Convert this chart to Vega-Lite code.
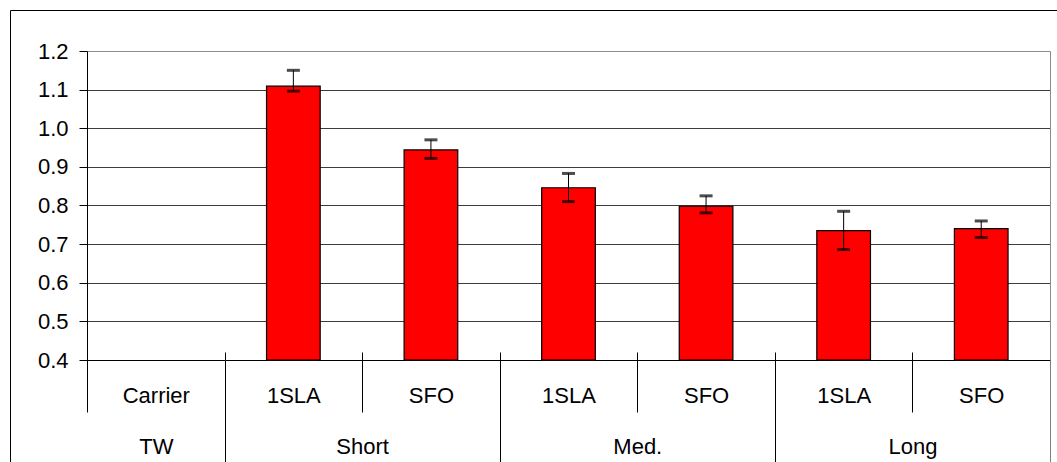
{
  "$schema": "https://vega.github.io/schema/vega-lite/v6.json",
  "width": 1047,
  "height": 452,
  "autosize": {"type": "none"},
  "padding": {"left": 10, "top": 10, "right": 0, "bottom": 0},
  "background": "white",
  "data": {
    "values": [
      {"cat": "TW Carrier", "value": null, "lo": null, "hi": null},
      {"cat": "Short 1SLA", "value": 1.109, "lo": 1.096, "hi": 1.150},
      {"cat": "Short SFO", "value": 0.944, "lo": 0.922, "hi": 0.970},
      {"cat": "Med. 1SLA", "value": 0.846, "lo": 0.810, "hi": 0.883},
      {"cat": "Med. SFO", "value": 0.798, "lo": 0.781, "hi": 0.825},
      {"cat": "Long 1SLA", "value": 0.735, "lo": 0.686, "hi": 0.785},
      {"cat": "Long SFO", "value": 0.740, "lo": 0.717, "hi": 0.760}
    ]
  },
  "config": {
    "view": {"stroke": "black", "strokeWidth": 1},
    "axis": {
      "labelFont": "Liberation Sans",
      "labelFontSize": 22,
      "labelColor": "black",
      "tickColor": "black",
      "domainColor": "black",
      "labelAngle": 0,
      "labelOverlap": false
    }
  },
  "resolve": {"axis": {"x": "independent", "y": "independent"}},
  "layer": [
    {
      "mark": {"type": "bar", "fill": "#ff0000", "stroke": "black", "strokeWidth": 1.2, "width": {"band": 0.39}},
      "encoding": {
        "x": {
          "field": "cat", "type": "nominal",
          "scale": {"domain": ["TW Carrier", "Short 1SLA", "Short SFO", "Med. 1SLA", "Med. SFO", "Long 1SLA", "Long SFO"], "range": [77, 1040], "paddingInner": 0, "paddingOuter": 0},
          "axis": {"orient": "bottom", "offset": -102, "title": null, "grid": false, "domain": true, "domainWidth": 1, "ticks": true, "tickBand": "extent", "tickSize": 52, "labelExpr": "split(datum.value, ' ')[1]", "labelBaseline": "middle", "labelPadding": -17}
        },
        "y": {
          "field": "value", "type": "quantitative",
          "scale": {"domain": [0.4, 1.2], "range": [350, 41], "nice": false, "zero": false},
          "axis": {"orient": "left", "offset": -77, "title": null, "values": [0.4, 0.5, 0.6, 0.7, 0.8, 0.9, 1.0, 1.1, 1.2], "format": ".1f", "grid": true, "gridColor": {"condition": {"test": "datum.value > 1.15", "value": "#8c8c8c"}, "value": "#3c3c3c"}, "gridWidth": 1, "tickSize": 8, "labelPadding": 11}
        },
        "y2": {"datum": 0.4}
      }
    },
    {
      "mark": {"type": "rule", "color": "black", "strokeWidth": 1},
      "encoding": {
        "x": {
          "field": "cat", "type": "nominal",
          "scale": {"domain": ["TW Carrier", "Short 1SLA", "Short SFO", "Med. 1SLA", "Med. SFO", "Long 1SLA", "Long SFO"], "range": [77, 1040], "paddingInner": 0, "paddingOuter": 0},
          "axis": {"orient": "bottom", "offset": -102, "title": null, "grid": false, "domain": false, "labels": false, "tickBand": "extent", "tickSize": -8}
        },
        "y": {
          "field": "lo", "type": "quantitative",
          "axis": {"orient": "right", "offset": -7, "title": null, "grid": false, "ticks": false, "labels": false, "domain": true, "domainColor": "#8c8c8c", "domainWidth": 1}
        },
        "y2": {"field": "hi"}
      }
    },
    {
      "mark": {"type": "tick", "color": "black", "size": 13, "thickness": 3, "orient": "horizontal"},
      "encoding": {
        "x": {
          "field": "cat", "type": "nominal",
          "scale": {"domain": ["TW Carrier", "Short 1SLA", "Short SFO", "Med. 1SLA", "Med. SFO", "Long 1SLA", "Long SFO"], "range": [77, 1040], "paddingInner": 0, "paddingOuter": 0},
          "axis": {"orient": "bottom", "offset": -102, "title": null, "grid": false, "domain": false, "ticks": true, "tickBand": "extent", "tickSize": 102, "tickColor": "#7f7f7f", "tickOpacity": {"condition": {"test": "datum.value == 'TW Carrier' || datum.value == 'Long SFO'", "value": 1}, "value": 0}, "labelExpr": "datum.value == 'TW Carrier' ? split(datum.value, ' ')[0] : ''", "labelBaseline": "middle", "labelPadding": -16}
        },
        "y": {"field": "hi", "type": "quantitative", "axis": null}
      }
    },
    {
      "mark": {"type": "tick", "color": "black", "size": 13, "thickness": 3, "orient": "horizontal"},
      "encoding": {
        "x": {
          "field": "cat", "type": "nominal",
          "scale": {"domain": ["TW Carrier", "Short 1SLA", "Short SFO", "Med. 1SLA", "Med. SFO", "Long 1SLA", "Long SFO"], "range": [77, 1040], "paddingInner": 0, "paddingOuter": 0},
          "axis": {"orient": "bottom", "offset": -102, "title": null, "grid": false, "domain": false, "values": ["Short 1SLA", "Med. 1SLA", "Long 1SLA"], "tickOffset": -68.79, "tickSize": 102, "labelOffset": 137.57, "labelExpr": "split(datum.value, ' ')[0]", "labelBaseline": "middle", "labelPadding": -16}
        },
        "y": {"field": "lo", "type": "quantitative", "axis": null}
      }
    }
  ]
}
